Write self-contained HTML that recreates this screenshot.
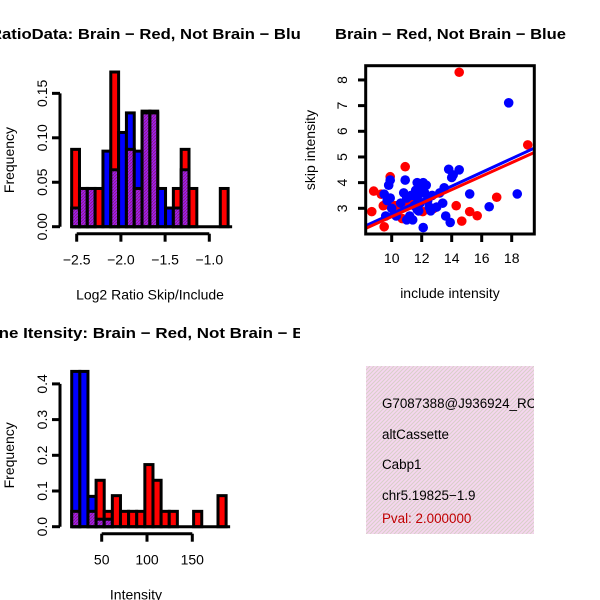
<!DOCTYPE html>
<html><head><meta charset="utf-8"><style>
html,body{margin:0;padding:0;background:#fff}
svg{display:block;font-family:"Liberation Sans",Arial,sans-serif}
</style></head><body>
<svg id="c" width="600" height="600" viewBox="0 0 600 600">
<defs>
<clipPath id="clipL"><rect x="0" y="0" width="300" height="600"/></clipPath>
<clipPath id="clipBox"><rect x="366" y="366" width="168" height="168"/></clipPath>
<pattern id="hatch" width="4" height="4" patternUnits="userSpaceOnUse">
<rect width="4" height="4" fill="#f6d6f0"/>
<path d="M-1,1 L1,-1 M0,4 L4,0 M3,5 L5,3" stroke="#d8d0c8" stroke-width="1"/>
</pattern>
<pattern id="purp" width="3" height="3" patternUnits="userSpaceOnUse">
<rect width="3" height="3" fill="#a020f0"/>
<path d="M0,3 L3,0" stroke="#8b1a8b" stroke-width="1"/>
</pattern>
</defs>
<g id="top" clip-path="url(#clipL)"></g>
<g id="bot" clip-path="url(#clipL)"></g>
<g id="sc"></g>
<g id="info">
<rect x="366" y="366" width="168" height="168" fill="url(#hatch)"/>
<g clip-path="url(#clipBox)" font-size="13.4">
<text x="382" y="408">G7087388@J936924_RC</text>
<text x="382" y="439">altCassette</text>
<text x="382" y="469">Cabp1</text>
<text x="382" y="500">chr5.19825−1.9</text>
<text x="382" y="523" fill="#c00000">Pval: 2.000000</text>
</g></g>
</svg>
<script>
// ---- top histogram data (Log2 ratio) ----
const ratioBinStart = -2.557;
const ratioBinWidth = 0.0885;
const ratioRed  = [0.087,0.043,0.043,0.043,0,0.174,0,0.087,0.043,0.13,0.13,0,0,0.043,0.087,0.043,0,0,0,0.043];
const ratioBlue = [0.021,0.043,0.043,0,0.085,0.064,0.106,0.128,0.085,0.128,0.128,0.043,0.021,0.021,0.064,0,0,0,0,0];
const ratioXTicks = [-2.5,-2.0,-1.5,-1.0];
const ratioYTicks = [0,0.05,0.10,0.15];
const ratioYLabels = ["0.00","0.05","0.10","0.15"];
// ---- bottom histogram data (Intensity) ----
const intBinStart = 16.9;
const intBinWidth = 8.97;
const intRed  = [0.043,0,0.043,0.13,0.043,0.087,0.043,0.043,0.043,0.174,0.13,0.043,0.043,0,0,0.043,0,0,0.087];
const intBlue = [0.435,0.435,0.085,0.021,0.021,0,0,0,0,0,0,0,0,0,0,0,0,0,0];
const intXTicks = [50,100,150];
const intYTicks = [0,0.1,0.2,0.3,0.4];
const intYLabels = ["0.0","0.1","0.2","0.3","0.4"];
// ---- scatter data ----
const redX = [14.5,19.07,10.9,9.9,8.8,8.67,9.44,9.9,10.2,9.5,11.0,10.7,12.07,14.3,14.67,15.2,15.7,17.0,9.3,11.3,10.4,12.8,11.8];
const redY = [8.3,5.47,4.62,4.23,3.67,2.87,3.1,3.1,3.1,2.28,3.2,2.6,2.87,3.1,2.5,2.87,2.71,3.43,3.55,3.4,3.1,3.0,2.9];
const blueX = [17.8,18.37,15.2,16.5,13.8,14.5,14.0,14.1,13.5,13.4,13.0,12.5,13.6,13.9,12.1,11.7,10.9,9.9,9.8,9.5,9.9,9.6,10.3,11.0,11.6,11.7,11.9,12.0,12.2,11.7,11.8,11.0,11.4,11.2,12.1,11.9,12.4,12.7,10.0,10.6,11.3,12.3,10.8,9.7,13.2,11.5,12.6];
const blueY = [7.11,3.56,3.56,3.06,4.52,4.5,4.2,4.3,3.8,3.2,3.05,3.05,2.7,2.45,4.0,4.0,4.1,4.1,3.9,3.55,3.4,2.7,2.7,3.4,3.7,3.4,3.8,3.6,3.6,2.95,2.9,2.55,2.55,2.7,2.25,3.2,3.3,3.5,3.0,3.2,3.5,3.9,3.6,3.3,3.6,3.1,2.9];
const regIntercept = [0.045, 0.096];   // red, blue
const regSlope = [0.263, 0.269];
const scXTicks = [10,12,14,16,18];
const scYTicks = [3,4,5,6,7,8];

const NS="http://www.w3.org/2000/svg";
function mk(parent,tag,attrs,text){const e=document.createElementNS(NS,tag);for(const k in attrs)e.setAttribute(k,attrs[k]);if(text!==undefined)e.textContent=text;parent.appendChild(e);return e;}
const FS=14;

function hist(g,o){
  const xs=v=>o.x0px+(v-o.x0v)*o.xk, ys=v=>o.y0px-v*o.yk;
  const t=mk(g,'text',{x:o.titleX,y:o.titleY,'font-size':15,'font-weight':'bold',textLength:o.titleLen,lengthAdjust:'spacingAndGlyphs'},o.title);
  
  
  for(let i=0;i<o.red.length;i++){
    const a=xs(o.start+i*o.w), b=xs(o.start+(i+1)*o.w);
    const r=o.red[i], bl=o.blue[i], hi=Math.max(r,bl), lo=Math.min(r,bl);
    if(hi>0){
      const rc=mk(g,'rect',{x:a,y:ys(hi),width:b-a,height:ys(0)-ys(hi),fill:r>=bl?'#ff0000':'#0000ff',stroke:'#000','stroke-width':3});
      
      
    }
    if(lo>0){
      const pc=mk(g,'rect',{x:a,y:ys(lo),width:b-a,height:ys(0)-ys(lo),fill:'url(#purp)',stroke:'#000','stroke-width':3});
      
      
    }
  }
  const bl=mk(g,'line',{x1:xs(o.start),x2:xs(o.start+o.red.length*o.w)+4,y1:ys(0),y2:ys(0),stroke:'#000','stroke-width':3});
  
  
  const ya=mk(g,'g',{});
  
  
  mk(ya,'line',{x1:60,x2:60,y1:ys(o.yt[0]),y2:ys(o.yt[o.yt.length-1]),stroke:'#000','stroke-width':3});
  o.yt.forEach((v,i)=>{mk(ya,'line',{x1:52,x2:60,y1:ys(v),y2:ys(v),stroke:'#000','stroke-width':3});
    const tl=mk(ya,'text',{x:0,y:0,'font-size':FS,'text-anchor':'middle',transform:`translate(47,${ys(v)}) rotate(-90)`},o.yl[i]);
    
    });
  const yt=mk(g,'text',{x:0,y:0,'font-size':FS,'text-anchor':'middle',transform:`translate(14,${(ys(0)+ys(o.yt[o.yt.length-1]))/2}) rotate(-90)`},'Frequency');
  
  
  const xa=mk(g,'g',{});
  
  
  const ay=ys(0)+7;
  mk(xa,'line',{x1:xs(o.xt[0]),x2:xs(o.xt[o.xt.length-1]),y1:ay,y2:ay,stroke:'#000','stroke-width':3});
  o.xt.forEach(v=>{mk(xa,'line',{x1:xs(v),x2:xs(v),y1:ay,y2:ay+8,stroke:'#000','stroke-width':3});
    const tl=mk(xa,'text',{x:xs(v),y:ay+31,'font-size':FS,'text-anchor':'middle'},String(v.toFixed(o.dec)).replace('-','−'));
    
    });
  const xt=mk(g,'text',{x:(xs(o.xt[0])+xs(o.xt[o.xt.length-1]))/2+(o.xtOff||0),y:ay+66,'font-size':FS,'text-anchor':'middle'},o.xtitle);
  
  
}
const gt=document.getElementById('top');


hist(gt,{x0v:-2.5,x0px:76.7,xk:88.4,y0px:226.7,yk:889,start:ratioBinStart,w:ratioBinWidth,red:ratioRed,blue:ratioBlue,
  xt:ratioXTicks,yt:ratioYTicks,yl:ratioYLabels,dec:1,title:'RatioData: Brain − Red, Not Brain − Blue',titleX:-10,titleY:39,titleLen:320,xtitle:'Log2 Ratio Skip/Include',xtOff:7});
const gb=document.getElementById('bot');


hist(gb,{x0v:50,x0px:101.7,xk:0.906,y0px:526.7,yk:357,start:intBinStart,w:intBinWidth,red:intRed,blue:intBlue,
  xt:intXTicks,yt:intYTicks,yl:intYLabels,dec:0,title:'Gene Itensity: Brain − Red, Not Brain − Blue',titleX:-24,titleY:338,titleLen:353,xtitle:'Intensity',xtOff:-11});

const sc=document.getElementById('sc');


const sx=v=>391.7+(v-10)*15, sy=v=>208.3-(v-3)*25.67;
const stt=mk(sc,'text',{x:335,y:39,'font-size':15,'font-weight':'bold',textLength:231,lengthAdjust:'spacingAndGlyphs'},'Brain − Red, Not Brain − Blue');


const rp=mk(sc,'g',{});


redX.forEach((x,i)=>{const c=mk(rp,'circle',{cx:sx(x),cy:sy(redY[i]),r:4.8,fill:'#ff0000'});
  
  });
const bp=mk(sc,'g',{});


blueX.forEach((x,i)=>{const c=mk(bp,'circle',{cx:sx(x),cy:sy(blueY[i]),r:4.8,fill:'#0000ff'});
  
  });
const xmin=8.27,xmax=19.5;
['#0000ff','#ff0000'].forEach(col=>{const j=col==='#ff0000'?0:1;
  const l=mk(sc,'line',{x1:sx(xmin),x2:sx(xmax),y1:sy(regIntercept[j]+regSlope[j]*xmin),y2:sy(regIntercept[j]+regSlope[j]*xmax),stroke:col,'stroke-width':3});
  
  });
const box=mk(sc,'rect',{x:365.7,y:65.7,width:168.6,height:168.3,fill:'none',stroke:'#000','stroke-width':3});


const sxa=mk(sc,'g',{});


scXTicks.forEach(v=>{mk(sxa,'line',{x1:sx(v),x2:sx(v),y1:234,y2:242,stroke:'#000','stroke-width':3});
  const t=mk(sxa,'text',{x:sx(v),y:263,'font-size':FS,'text-anchor':'middle'},String(v));
  
  });
const sya=mk(sc,'g',{});


scYTicks.forEach(v=>{mk(sya,'line',{x1:358,x2:366,y1:sy(v),y2:sy(v),stroke:'#000','stroke-width':3});
  const t=mk(sya,'text',{x:0,y:0,'font-size':FS,'text-anchor':'middle',transform:`translate(347,${sy(v)}) rotate(-90)`},String(v));
  
  });
const sxt=mk(sc,'text',{x:450,y:298,'font-size':FS,'text-anchor':'middle'},'include intensity');


const syt=mk(sc,'text',{x:0,y:0,'font-size':FS,'text-anchor':'middle',transform:'translate(315,150) rotate(-90)'},'skip intensity');


</script>
</body></html>
